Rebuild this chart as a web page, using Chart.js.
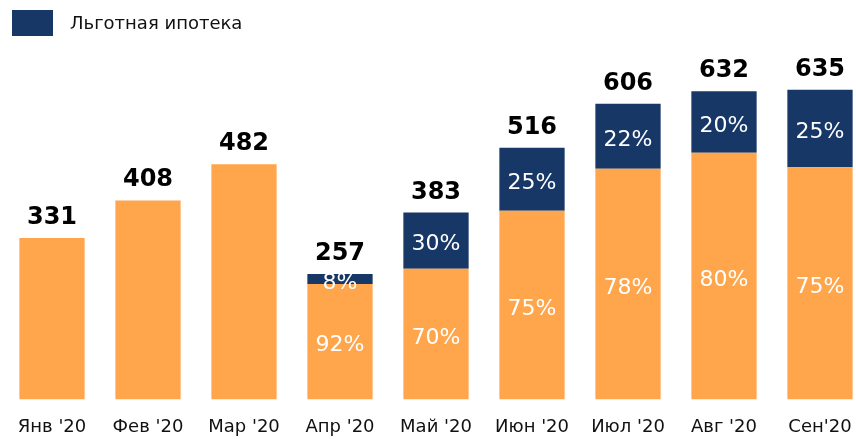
<!DOCTYPE html>
<html>
<head>
<meta charset="utf-8">
<script src="https://cdn.jsdelivr.net/npm/chart.js@4/dist/chart.umd.min.js"></script>
<style>
  html, body { margin: 0; padding: 0; background: #fff; overflow: hidden; }
  #wrap { position: relative; width: 872px; height: 455px; }
</style>
</head>
<body>
<div id="wrap"><canvas id="chart1"></canvas></div>
<script>
// данные графика
const months = ["Янв '20", "Фев '20", "Мар '20", "Апр '20", "Май '20", "Июн '20", "Июл '20", "Авг '20", "Сен'20"];
const totals = [331, 408, 482, 257, 383, 516, 606, 632, 635];
const otherPct = [100, 100, 100, 92, 70, 75, 78, 80, 75];
const lgotaPct = [0, 0, 0, 8, 30, 25, 22, 20, 25];
const legendLabel = 'Льготная ипотека';

const orange = '#FFA64D';
const navy = '#173867';

const otherValues = totals.map((t, i) => t * otherPct[i] / 100);
const lgotaValues = totals.map((t, i) => t * lgotaPct[i] / 100);

// подписи: проценты внутри, итог сверху, легенда
const labelsPlugin = {
  id: 'labelsPlugin',
  afterDatasetsDraw(chart) {
    const ctx = chart.ctx;
    const m0 = chart.getDatasetMeta(0);
    const m1 = chart.getDatasetMeta(1);
    ctx.save();
    ctx.textAlign = 'center';
    ctx.textBaseline = 'middle';
    ctx.font = '22px "DejaVu Sans"';
    ctx.fillStyle = '#fff';
    months.forEach((m, i) => {
      if (lgotaPct[i] > 0) {
        const b0 = m0.data[i], b1 = m1.data[i];
        ctx.fillText(otherPct[i] + '%', b0.x, (b0.y + b0.base) / 2 + 4);
        ctx.fillText(lgotaPct[i] + '%', b1.x, (b1.y + b1.base) / 2 + 4);
      }
    });
    ctx.fillStyle = '#000';
    ctx.font = 'bold 24px "DejaVu Sans"';
    ctx.textBaseline = 'alphabetic';
    months.forEach((m, i) => {
      const top = Math.min(m0.data[i].y, m1.data[i].y);
      ctx.fillText(String(totals[i]), m0.data[i].x, top - 14);
    });
    // легенда
    ctx.fillStyle = navy;
    ctx.fillRect(12, 10, 41, 26);
    ctx.fillStyle = '#111';
    ctx.font = '18px "DejaVu Sans"';
    ctx.textAlign = 'left';
    ctx.textBaseline = 'middle';
    ctx.fillText(legendLabel, 70, 24);
    ctx.restore();
  }
};

const chart1 = new Chart(document.getElementById('chart1'), {
  type: 'bar',
  data: {
    labels: months,
    datasets: [
      { label: 'Прочее', data: otherValues, backgroundColor: orange, barPercentage: 0.68, categoryPercentage: 1 },
      { label: legendLabel, data: lgotaValues, backgroundColor: navy, barPercentage: 0.68, categoryPercentage: 1 }
    ]
  },
  options: {
    responsive: true,
    maintainAspectRatio: false,
    animation: false,
    layout: { padding: { left: 4, right: 4, top: 58, bottom: 0 } },
    plugins: {
      legend: { display: false },
      tooltip: { enabled: false }
    },
    scales: {
      x: {
        stacked: true,
        grid: { display: false, drawTicks: false },
        border: { display: false },
        ticks: { color: '#111', font: { family: 'DejaVu Sans', size: 18 }, padding: 17, maxRotation: 0, autoSkip: false }
      },
      y: {
        stacked: true,
        display: false,
        min: 0,
        max: 700
      }
    }
  },
  plugins: [labelsPlugin]
});
</script>
</body>
</html>
